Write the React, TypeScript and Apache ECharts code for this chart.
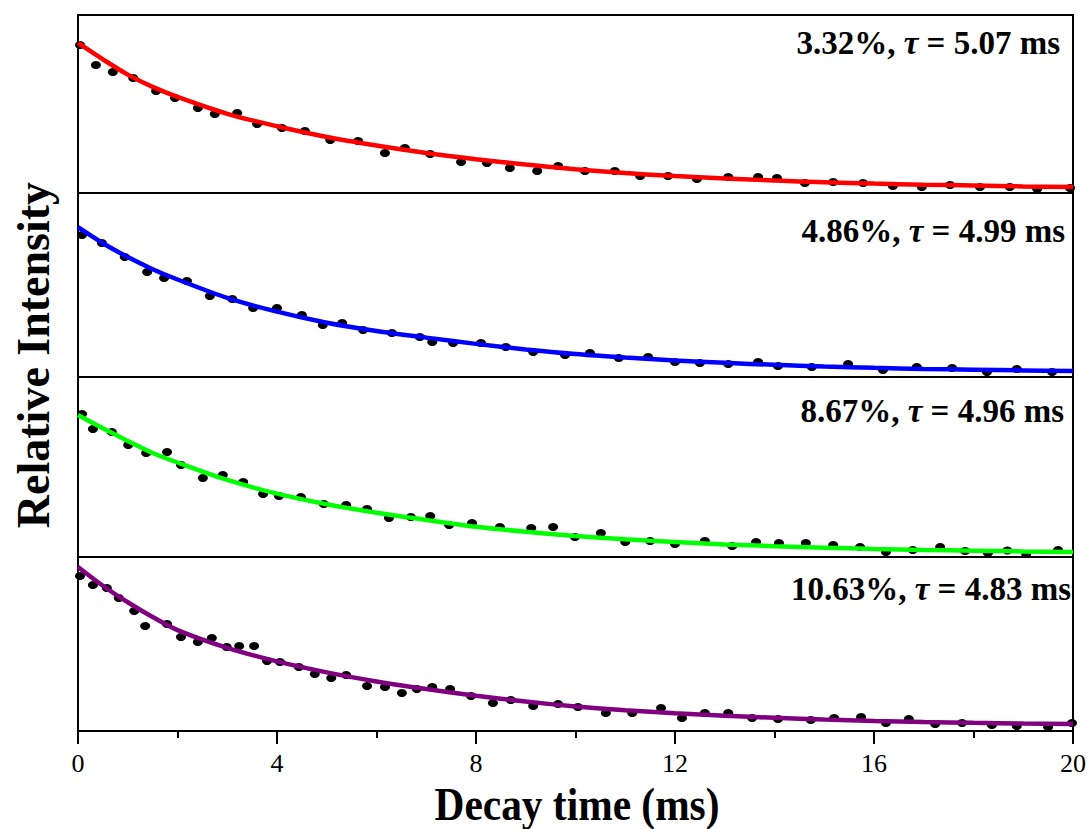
import React, { useEffect, useRef } from "react";
import * as echarts from "echarts";

// ---- data ----
const fitTime = [0, 0.5, 1, 1.5, 2, 3, 4, 5, 6, 7, 8, 9, 10, 11, 12, 13, 14, 15, 16, 17, 18, 19, 20];

const fitA = [0.843, 0.751, 0.665, 0.596, 0.54, 0.445, 0.375, 0.315, 0.267, 0.225, 0.19, 0.16, 0.134, 0.112, 0.095, 0.082, 0.07, 0.061, 0.053, 0.047, 0.042, 0.037, 0.034];
const fitB = [0.814, 0.727, 0.652, 0.586, 0.53, 0.43, 0.355, 0.295, 0.25, 0.214, 0.18, 0.15, 0.125, 0.106, 0.09, 0.077, 0.066, 0.057, 0.05, 0.044, 0.04, 0.036, 0.032];
const fitC = [0.789, 0.715, 0.645, 0.578, 0.525, 0.428, 0.352, 0.293, 0.246, 0.206, 0.168, 0.14, 0.117, 0.098, 0.083, 0.07, 0.06, 0.052, 0.045, 0.039, 0.035, 0.031, 0.028];
const fitD = [0.943, 0.835, 0.74, 0.655, 0.58, 0.478, 0.4, 0.337, 0.285, 0.241, 0.202, 0.169, 0.141, 0.119, 0.102, 0.087, 0.076, 0.066, 0.058, 0.052, 0.047, 0.043, 0.04];

const timeA = [0.04, 0.36, 0.7, 1.11, 1.57, 1.95, 2.41, 2.75, 3.2, 3.6, 4.1, 4.56, 5.07, 5.63, 6.17, 6.57, 7.08, 7.7, 8.22, 8.68, 9.23, 9.65, 10.19, 10.79, 11.3, 11.86, 12.44, 13.07, 13.67, 14.05, 14.61, 15.18, 15.78, 16.38, 16.96, 17.53, 18.13, 18.73, 19.28, 19.94];
const valA = [0.831, 0.719, 0.68, 0.646, 0.573, 0.534, 0.478, 0.444, 0.449, 0.388, 0.365, 0.348, 0.298, 0.292, 0.225, 0.253, 0.219, 0.174, 0.169, 0.14, 0.124, 0.152, 0.124, 0.124, 0.096, 0.096, 0.079, 0.09, 0.09, 0.084, 0.056, 0.062, 0.056, 0.039, 0.034, 0.045, 0.034, 0.034, 0.022, 0.028];

const timeB = [0.08, 0.48, 0.94, 1.39, 1.73, 2.19, 2.65, 3.1, 3.52, 4.0, 4.5, 4.92, 5.31, 5.73, 6.31, 6.87, 7.12, 7.54, 8.1, 8.6, 9.15, 9.79, 10.29, 10.87, 11.46, 12.0, 12.5, 13.07, 13.67, 14.07, 14.75, 15.48, 16.18, 16.86, 17.57, 18.27, 18.87, 19.58];
const valB = [0.772, 0.728, 0.652, 0.571, 0.538, 0.522, 0.44, 0.424, 0.375, 0.375, 0.337, 0.283, 0.293, 0.255, 0.239, 0.217, 0.19, 0.185, 0.185, 0.163, 0.136, 0.12, 0.13, 0.103, 0.109, 0.082, 0.076, 0.071, 0.082, 0.06, 0.054, 0.071, 0.038, 0.054, 0.049, 0.027, 0.043, 0.027];

const timeC = [0.08, 0.3, 0.68, 1.01, 1.37, 1.79, 2.07, 2.51, 2.91, 3.32, 3.72, 4.04, 4.48, 4.94, 5.39, 5.81, 6.25, 6.69, 7.08, 7.46, 7.92, 8.48, 9.11, 9.55, 9.99, 10.51, 11.0, 11.5, 12.0, 12.6, 13.15, 13.63, 14.09, 14.63, 15.18, 15.72, 16.24, 16.78, 17.33, 17.83, 18.29, 18.68, 19.06, 19.7];
const valC = [0.794, 0.711, 0.694, 0.622, 0.578, 0.583, 0.511, 0.439, 0.456, 0.417, 0.35, 0.339, 0.333, 0.294, 0.289, 0.267, 0.217, 0.222, 0.228, 0.178, 0.189, 0.167, 0.161, 0.167, 0.111, 0.133, 0.083, 0.089, 0.072, 0.089, 0.061, 0.083, 0.078, 0.078, 0.067, 0.056, 0.028, 0.039, 0.056, 0.033, 0.022, 0.036, 0.017, 0.039];

const timeD = [0.04, 0.3, 0.58, 0.82, 1.13, 1.35, 1.79, 2.07, 2.41, 2.69, 2.99, 3.24, 3.54, 3.8, 4.06, 4.44, 4.76, 5.09, 5.39, 5.81, 6.17, 6.51, 6.81, 7.12, 7.48, 7.9, 8.34, 8.7, 9.15, 9.65, 10.05, 10.61, 11.14, 11.72, 12.14, 12.6, 13.07, 13.55, 14.07, 14.73, 15.2, 15.74, 16.24, 16.7, 17.23, 17.77, 18.37, 18.87, 19.5, 19.98];
const valD = [0.891, 0.839, 0.822, 0.764, 0.69, 0.603, 0.615, 0.54, 0.511, 0.534, 0.483, 0.489, 0.489, 0.402, 0.397, 0.368, 0.328, 0.305, 0.322, 0.259, 0.253, 0.218, 0.241, 0.253, 0.241, 0.201, 0.161, 0.178, 0.144, 0.155, 0.138, 0.103, 0.103, 0.132, 0.075, 0.103, 0.103, 0.075, 0.069, 0.063, 0.075, 0.08, 0.046, 0.069, 0.04, 0.046, 0.034, 0.029, 0.023, 0.046];

const concentrations = ["3.32%", "4.86%", "8.67%", "10.63%"];
const lifetimes = ["5.07", "4.99", "4.96", "4.83"];
const xTicks = [0, 4, 8, 12, 16, 20];

const panels = [
  { t: timeA, v: valA, fit: fitA, color: "#ff0000" },
  { t: timeB, v: valB, fit: fitB, color: "#0000ff" },
  { t: timeC, v: valC, fit: fitC, color: "#00ff00" },
  { t: timeD, v: valD, fit: fitD, color: "#800080" },
];

// layout
const gridTops = [15, 193, 377, 557];
const gridHeights = [178, 184, 180, 174];
const labelY = [43, 231, 411, 589];
const labelRight = [1060, 1065, 1064, 1071];
const SERIF = '"Liberation Serif", "Times New Roman", serif';

export default function App() {
  const ref = useRef<HTMLDivElement>(null);
  useEffect(() => {
    if (!ref.current) return;
    const chart = echarts.init(ref.current, undefined, { renderer: "svg" });

    const grid = gridTops.map((top, i) => ({
      left: 78,
      right: 19,
      top,
      height: gridHeights[i],
      show: true,
      borderColor: "#000",
      borderWidth: 2,
      backgroundColor: "transparent",
      containLabel: false,
    }));

    const xAxis = panels.map((_, i) => {
      const last = i === panels.length - 1;
      return {
        type: "value",
        gridIndex: i,
        min: 0,
        max: 20,
        interval: 4,
        show: true,
        axisLine: { show: false },
        splitLine: { show: false },
        axisTick: { show: last, length: 13, inside: false, lineStyle: { color: "#000", width: 2 } },
        minorTick: { show: last, splitNumber: 2, length: 7, lineStyle: { color: "#000", width: 2 } },
        minorSplitLine: { show: false },
        axisLabel: {
          show: last,
          margin: 19,
          color: "#000",
          fontFamily: SERIF,
          fontSize: 26,
          formatter: (v: number) => (xTicks.includes(v) ? String(v) : ""),
        },
      };
    });

    const yAxis = panels.map((_, i) => ({
      type: "value",
      gridIndex: i,
      min: 0,
      max: 1,
      show: false,
      splitLine: { show: false },
    }));

    const series: any[] = [];
    panels.forEach((p, i) => {
      series.push({
        type: "scatter",
        xAxisIndex: i,
        yAxisIndex: i,
        data: p.t.map((t, k) => [t, p.v[k]]),
        symbol: "circle",
        symbolSize: [10, 8],
        itemStyle: { color: "#000", opacity: 1 },
        z: 2,
        silent: true,
      });
      series.push({
        type: "line",
        xAxisIndex: i,
        yAxisIndex: i,
        data: fitTime.map((t, k) => [t, p.fit[k]]),
        smooth: 0.3,
        showSymbol: false,
        symbol: "none",
        lineStyle: { color: p.color, width: 4.5 },
        z: 3,
        silent: true,
      });
    });

    const graphic: any[] = [
      {
        type: "text",
        x: 33,
        y: 355,
        rotation: Math.PI / 2,
        style: {
          text: "Relative Intensity",
          fill: "#000",
          fontFamily: SERIF,
          fontWeight: "bold",
          fontSize: 46,
          align: "center",
          verticalAlign: "middle",
          textAlign: "center",
          textVerticalAlign: "middle",
        },
      },
      {
        type: "text",
        x: 577,
        y: 804,
        scaleX: 0.9,
        style: {
          text: "Decay time (ms)",
          fill: "#000",
          fontFamily: SERIF,
          fontWeight: "bold",
          fontSize: 46,
          align: "center",
          verticalAlign: "middle",
          textAlign: "center",
          textVerticalAlign: "middle",
        },
      },
    ];
    concentrations.forEach((c, i) => {
      graphic.push({
        type: "text",
        x: labelRight[i],
        y: labelY[i],
        style: {
          text: `{n|${c}, }{t|τ}{n| = ${lifetimes[i]} ms}`,
          fill: "#000",
          align: "right",
          verticalAlign: "middle",
          textAlign: "right",
          textVerticalAlign: "middle",
          rich: {
            n: { fontFamily: SERIF, fontWeight: "bold", fontSize: 33, fill: "#000", color: "#000" },
            t: { fontFamily: SERIF, fontWeight: "bold", fontStyle: "italic", fontSize: 33, fill: "#000", color: "#000" },
          },
        },
      });
    });

    chart.setOption({
      animation: false,
      backgroundColor: "#fff",
      grid,
      xAxis,
      yAxis,
      series,
      graphic,
    });

    return () => chart.dispose();
  }, []);

  return (
    <div
      ref={ref}
      style={{ position: "fixed", left: 0, top: 0, width: 1092, height: 829 }}
    />
  );
}
